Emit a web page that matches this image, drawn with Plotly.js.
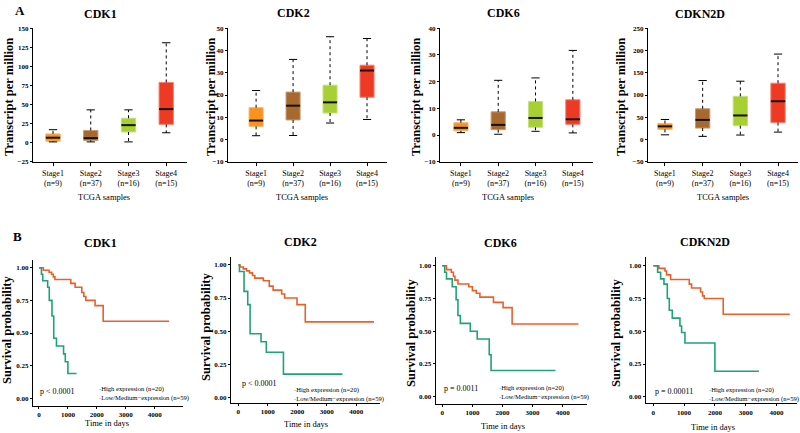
<!DOCTYPE html>
<html><head><meta charset="utf-8">
<script src="https://cdn.plot.ly/plotly-3.0.1.min.js"></script>
<style>html,body{margin:0;padding:0;background:#fff}#chart{width:800px;height:433px}</style>
</head><body><div id="chart"></div>
<script>
// ---------- DATA ----------
const genes = ['CDK1', 'CDK2', 'CDK6', 'CDKN2D'];
const stageNames = ['Stage1', 'Stage2', 'Stage3', 'Stage4'];
const stageCounts = ['(n=9)', '(n=37)', '(n=16)', '(n=15)'];

// Box plots (transcripts per million)
const CDK1_low  = [1, 1, 1, 13];
const CDK1_q1   = [2, 3, 14, 24];
const CDK1_med  = [6.5, 6, 23, 44];
const CDK1_q3   = [11.5, 16, 32, 79];
const CDK1_high = [17, 43, 43, 131];

const CDK2_low  = [1.7, 1.8, 7.4, 9];
const CDK2_q1   = [5.9, 8.8, 11.9, 19];
const CDK2_med  = [8.5, 15.2, 16.7, 31];
const CDK2_q3   = [14.3, 21.3, 24.4, 33.4];
const CDK2_high = [22, 36, 46.2, 45.4];

const CDK6_low  = [0.9, 0.3, 1.4, 0.8];
const CDK6_q1   = [1.6, 2, 2.9, 4];
const CDK6_med  = [2.7, 3.8, 6.4, 5.9];
const CDK6_q3   = [4.6, 8.7, 12.6, 13.2];
const CDK6_high = [5.7, 20.5, 21.4, 31.7];

const CDKN2D_low  = [10.5, 7, 10, 16.6];
const CDKN2D_q1   = [22.6, 25.6, 31, 38];
const CDKN2D_med  = [29.5, 44, 54, 86];
const CDKN2D_q3   = [36, 69, 97, 126.5];
const CDKN2D_high = [45, 132.5, 131, 192];

// Kaplan-Meier curves (time in days, survival probability)
const CDK1_high_t = [0, 85, 130, 300, 356, 450, 510, 605, 850, 910, 1000, 1300];
const CDK1_high_s = [1, 0.95, 0.90, 0.85, 0.75, 0.63, 0.46, 0.40, 0.34, 0.28, 0.19, 0.19];
const CDK1_lowm_t = [0, 150, 350, 437, 494, 552, 1100, 1250, 1480, 1550, 1620, 1940, 2220, 4500];
const CDK1_lowm_s = [1, 0.98, 0.965, 0.95, 0.93, 0.91, 0.88, 0.85, 0.81, 0.78, 0.75, 0.71, 0.59, 0.59];

const CDK2_high_t = [0, 40, 195, 320, 400, 770, 950, 1530, 3530];
const CDK2_high_s = [1, 0.95, 0.80, 0.70, 0.48, 0.42, 0.34, 0.175, 0.175];
const CDK2_lowm_t = [0, 60, 170, 280, 380, 480, 560, 850, 1050, 1180, 1470, 1570, 1990, 2270, 4600];
const CDK2_lowm_s = [1, 0.985, 0.97, 0.955, 0.94, 0.92, 0.90, 0.88, 0.84, 0.81, 0.78, 0.75, 0.70, 0.57, 0.57];

const CDK6_high_t = [0, 80, 140, 330, 460, 520, 600, 930, 1160, 1560, 1620, 3760];
const CDK6_high_s = [1, 0.95, 0.90, 0.84, 0.74, 0.62, 0.56, 0.50, 0.44, 0.32, 0.20, 0.20];
const CDK6_lowm_t = [0, 140, 300, 370, 420, 520, 880, 1000, 1130, 1250, 1700, 2020, 2320, 4520];
const CDK6_lowm_s = [1, 0.97, 0.95, 0.92, 0.89, 0.86, 0.84, 0.81, 0.79, 0.76, 0.72, 0.68, 0.555, 0.555];

const CDKN2D_high_t = [0, 140, 238, 346, 454, 519, 616, 865, 919, 1027, 2000, 3430];
const CDKN2D_high_s = [1, 0.95, 0.90, 0.86, 0.75, 0.66, 0.60, 0.54, 0.49, 0.41, 0.195, 0.195];
const CDKN2D_lowm_t = [0, 180, 378, 430, 562, 1168, 1243, 1535, 1600, 1654, 2270, 4430];
const CDKN2D_lowm_s = [1, 0.98, 0.96, 0.93, 0.895, 0.86, 0.83, 0.80, 0.77, 0.75, 0.63, 0.63];

const pValues = ['p < 0.0001', 'p < 0.0001', 'p = 0.0011', 'p = 0.00011'];
const legendHigh = 'High expression (n=20)';
const legendLow = 'Low/Medium\u2212expression (n=59)';

// ---------- STYLE / LAYOUT ----------
const W = 800, H = 433;
const SERIF = 'Liberation Serif, Times New Roman, serif';
const boxFill = ['#F7931E', '#A8692F', '#A8CF33', '#EE3A24'];
const boxLine = ['#F9B46A', '#C79A70', '#C6E07A', '#F5806F'];
const GREEN = '#1FA27A', ORANGE = '#E8612C';

const boxData = [
  [CDK1_low, CDK1_q1, CDK1_med, CDK1_q3, CDK1_high],
  [CDK2_low, CDK2_q1, CDK2_med, CDK2_q3, CDK2_high],
  [CDK6_low, CDK6_q1, CDK6_med, CDK6_q3, CDK6_high],
  [CDKN2D_low, CDKN2D_q1, CDKN2D_med, CDKN2D_q3, CDKN2D_high]
];
const kmData = [
  [CDK1_high_t, CDK1_high_s, CDK1_lowm_t, CDK1_lowm_s],
  [CDK2_high_t, CDK2_high_s, CDK2_lowm_t, CDK2_lowm_s],
  [CDK6_high_t, CDK6_high_s, CDK6_lowm_t, CDK6_lowm_s],
  [CDKN2D_high_t, CDKN2D_high_s, CDKN2D_lowm_t, CDKN2D_lowm_s]
];

// pixel geometry of panels
const boxPanels = [
  {x0: 33, x1: 187, xr: [-0.53, 3.55], yr: [-25, 150], dt: 25},
  {x0: 228, x1: 387, xr: [-0.76, 3.54], yr: [-10, 50], dt: 10},
  {x0: 440, x1: 593, xr: [-0.56, 3.54], yr: [-10, 40], dt: 10},
  {x0: 648, x1: 798, xr: [-0.45, 3.53], yr: [-50, 250], dt: 50}
];
const boxTop = 28, boxBot = 162;
const kmPanels = [
  {x0: 33, x1: 183, y0: 260, y1: 406, xr: [-207, 4980], yr: [-0.059, 1.059]},
  {x0: 231, x1: 380, y0: 257, y1: 402.7, xr: [-247, 4803], yr: [-0.041, 1.06]},
  {x0: 435.7, x1: 586.7, y0: 256.7, y1: 404, xr: [-219, 4797], yr: [-0.056, 1.069]},
  {x0: 645.7, x1: 796.7, y0: 256.7, y1: 403.3, xr: [-247, 4656], yr: [-0.05, 1.069]}
];

const traces = [];
const layout = {
  width: W, height: H, margin: {l: 0, r: 0, t: 0, b: 0},
  paper_bgcolor: '#fff', plot_bgcolor: 'rgba(0,0,0,0)',
  showlegend: false, annotations: []
};

const tickFont = {family: SERIF, size: 7, color: '#000', weight: 'bold'};

boxPanels.forEach((p, g) => {
  const n = g + 1;
  const xa = 'x' + n, ya = 'y' + n;
  const [lo, q1, med, q3, hi] = boxData[g];
  layout['xaxis' + n] = {
    domain: [p.x0 / W, p.x1 / W], range: p.xr, anchor: ya,
    showgrid: false, zeroline: false, showline: true, linecolor: '#000', linewidth: 1,
    ticks: 'outside', ticklen: 3, tickcolor: '#000',
    tickvals: [0, 1, 2, 3],
    ticktext: stageNames.map((s, i) => s + '<br>' + stageCounts[i]),
    tickfont: {family: SERIF, size: 8, color: '#000'}, fixedrange: true
  };
  layout['yaxis' + n] = {
    domain: [1 - boxBot / H, 1 - boxTop / H],
    range: [p.yr[0] - (p.yr[1] - p.yr[0]) * 0.002, p.yr[1] + (p.yr[1] - p.yr[0]) * 0.002],
    anchor: xa, dtick: p.dt, tick0: 0,
    showgrid: false, zeroline: false, showline: true, linecolor: '#000', linewidth: 1,
    ticks: 'outside', ticklen: 2, tickcolor: '#000', tickfont: tickFont, fixedrange: true
  };
  const wx = [], wy = [], cx = [], cy = [], mx = [], my = [];
  for (let i = 0; i < 4; i++) {
    wx.push(i, i, null, i, i, null);
    wy.push(q3[i], hi[i], null, q1[i], lo[i], null);
    cx.push(i - 0.11, i + 0.11, null, i - 0.11, i + 0.11, null);
    cy.push(hi[i], hi[i], null, lo[i], lo[i], null);
    mx.push(i - 0.19, i + 0.19, null);
    my.push(med[i], med[i], null);
  }
  traces.push({type: 'scatter', mode: 'lines', x: wx, y: wy, xaxis: xa, yaxis: ya,
    line: {color: '#000', width: 1, dash: 'dot'}, hoverinfo: 'skip'});
  traces.push({type: 'scatter', mode: 'lines', x: cx, y: cy, xaxis: xa, yaxis: ya,
    line: {color: '#000', width: 1}, hoverinfo: 'skip'});
  for (let i = 0; i < 4; i++) {
    traces.push({type: 'box', x: [i], q1: [q1[i]], median: [med[i]], q3: [q3[i]],
      lowerfence: [q1[i]], upperfence: [q3[i]], width: 0.38, whiskerwidth: 0,
      xaxis: xa, yaxis: ya, fillcolor: boxFill[i], line: {color: boxLine[i], width: 1},
      boxpoints: false, hoverinfo: 'skip'});
  }
  traces.push({type: 'scatter', mode: 'lines', x: mx, y: my, xaxis: xa, yaxis: ya,
    line: {color: '#111', width: 2}, hoverinfo: 'skip'});
});

kmPanels.forEach((p, g) => {
  const n = g + 5;
  const xa = 'x' + n, ya = 'y' + n;
  const [ht, hs, lt, ls] = kmData[g];
  layout['xaxis' + n] = {
    domain: [p.x0 / W, p.x1 / W], range: p.xr, anchor: ya,
    showgrid: false, zeroline: false, showline: true, linecolor: '#000', linewidth: 1,
    ticks: 'outside', ticklen: 2, tickcolor: '#000',
    tickvals: [0, 1000, 2000, 3000, 4000], tickfont: tickFont, fixedrange: true
  };
  layout['yaxis' + n] = {
    domain: [1 - p.y1 / H, 1 - p.y0 / H], range: p.yr, anchor: xa,
    tickvals: [0, 0.25, 0.5, 0.75, 1], tickformat: '.2f',
    showgrid: false, zeroline: false, showline: true, linecolor: '#000', linewidth: 1,
    ticks: 'outside', ticklen: 2, tickcolor: '#000', tickfont: tickFont, fixedrange: true
  };
  traces.push({type: 'scatter', mode: 'lines', x: lt, y: ls, xaxis: xa, yaxis: ya,
    line: {color: ORANGE, width: 1.6, shape: 'hv'}, hoverinfo: 'skip'});
  traces.push({type: 'scatter', mode: 'lines', x: ht, y: hs, xaxis: xa, yaxis: ya,
    line: {color: GREEN, width: 1.6, shape: 'hv'}, hoverinfo: 'skip'});
});

// ---------- TEXT ----------
function ann(text, px, py, opts) {
  layout.annotations.push(Object.assign({
    text: text, xref: 'paper', yref: 'paper', x: px / W, y: 1 - py / H,
    xanchor: 'center', yanchor: 'middle', showarrow: false,
    font: {family: SERIF, size: 9, color: '#000'}
  }, opts || {}));
}
const boldFont = (s) => ({family: SERIF, size: s, color: '#000', weight: 'bold'});

ann('A', 20, 10, {font: boldFont(13)});
ann('B', 17, 236, {font: boldFont(13)});

const boxTitlePos = [[100, 14], [293, 13], [503, 13], [700, 14]];
const boxYTitleX = [9, 211, 416, 621];
const tcgaPos = [[104, 197], [302, 197], [508, 197], [723, 197]];
const kmTitlePos = [[100, 243], [300, 242], [500, 243], [705, 242]];
const kmYTitle = [[7, 330], [206, 327], [411, 333], [616, 333]];
const timePos = [[107, 423], [306, 424], [503, 426], [713, 427]];
const pPos = [[38, 391], [240, 383], [442, 388], [653, 391]];
const legPos = [[97, 389], [292, 390], [497, 388], [707, 390]];

genes.forEach((gname, g) => {
  ann(gname, boxTitlePos[g][0], boxTitlePos[g][1], {font: boldFont(12)});
  ann('Transcript per million', boxYTitleX[g], 97, {textangle: -90, font: boldFont(12.5)});
  ann('TCGA samples', tcgaPos[g][0], tcgaPos[g][1], {font: {family: SERIF, size: 8.5, color: '#000'}});
  ann(gname, kmTitlePos[g][0], kmTitlePos[g][1], {font: boldFont(12)});
  ann('Survival probability', kmYTitle[g][0], kmYTitle[g][1], {textangle: -90, font: boldFont(12.5)});
  ann('Time in days', timePos[g][0], timePos[g][1], {font: {family: SERIF, size: 8.5, color: '#000'}});
  ann(pValues[g], pPos[g][0], pPos[g][1], {xanchor: 'left', font: {family: SERIF, size: 8, color: '#000'}});
  ann('<span style="color:' + GREEN + '">-</span>' + legendHigh, legPos[g][0], legPos[g][1],
      {xanchor: 'left', font: {family: SERIF, size: 6.6, color: '#000'}});
  ann('<span style="color:' + ORANGE + '">-</span>' + legendLow, legPos[g][0], legPos[g][1] + 9,
      {xanchor: 'left', font: {family: SERIF, size: 6.6, color: '#000'}});
});

Plotly.newPlot('chart', traces, layout, {staticPlot: true, displayModeBar: false});
</script>
</body></html>
